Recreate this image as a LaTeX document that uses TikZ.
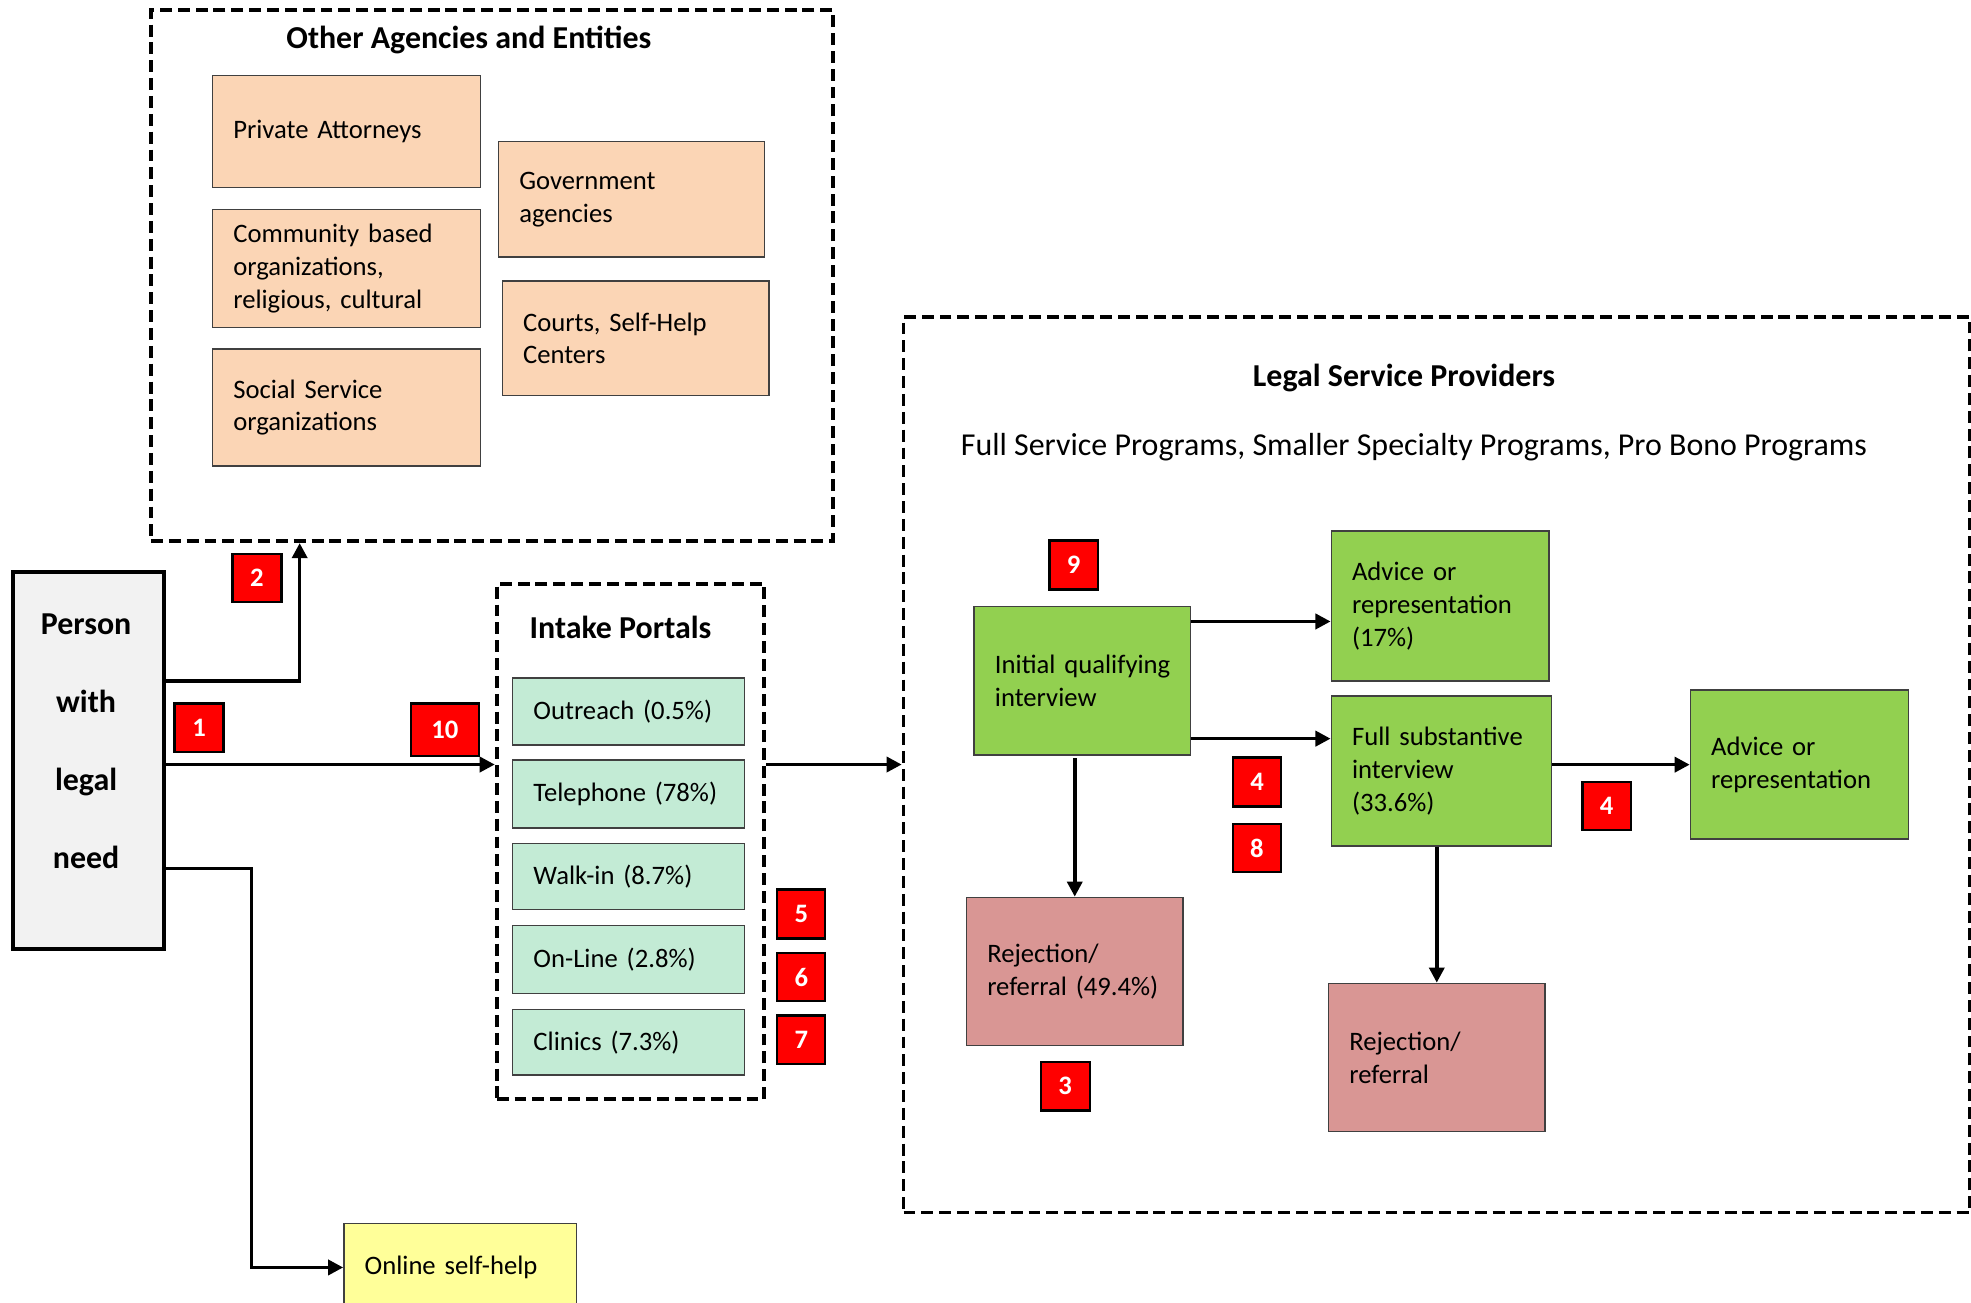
\documentclass[tikz,border=0pt]{standalone}
\usepackage{fontspec}
\setmainfont{Carlito}
\usetikzlibrary{arrows.meta,calc}
\definecolor{peach}{HTML}{FBD5B5}
\definecolor{mint}{HTML}{C3EBD5}
\definecolor{lgreen}{HTML}{92D050}
\definecolor{rose}{HTML}{D99694}
\definecolor{pale}{HTML}{FFFF99}
\definecolor{greybox}{HTML}{F2F2F2}
\definecolor{edge}{HTML}{404040}
\begin{document}
\begin{tikzpicture}[x=1pt,y=-1pt,
  body/.style={font=\fontsize{21.2}{26}\selectfont},
  headfont/.style={font=\bfseries\fontsize{25.4}{30}\selectfont},
  box/.style={draw=edge, line width=1.2pt, rectangle, inner xsep=16.5pt, inner ysep=0pt, align=left, body, anchor=north west},
  group/.style={draw=black, line width=3pt, dash pattern=on 9.5pt off 4.7pt, rectangle, inner sep=0pt, anchor=north west},
  badge/.style={draw=black, line width=1.8pt, fill=red, text=white, font=\bfseries\fontsize{21.2}{26}\selectfont, inner sep=0pt, anchor=north west},
  conn/.style={line width=2.8pt, -{Triangle[length=12pt,width=12pt]}},
]
\path[use as bounding box, fill=white] (0,0) rectangle (1568,1036);

% groups
\node[group, minimum width=542.4pt, minimum height=422.8pt] (other) at (118.6,6.25) {};
\node[group, minimum width=212.8pt, minimum height=410pt] (intake) at (393.6,463) {};
\node[group, minimum width=848.5pt, minimum height=712.5pt] (lsp) at (717.3,250.6) {};

% titles
\node[headfont] (othertitle) at (373,31.5) {Other Agencies and Entities};
\node[headfont] (intaketitle) at (493.6,499) {Intake Portals};
\node[headfont] (lsptitle) at (1117,300.5) {Legal Service Providers};
\node[font=\fontsize{25.4}{30}\selectfont] (lspsub) at (1124.8,356) {Full Service Programs, Smaller Specialty Programs, Pro Bono Programs};

% other agencies
\node[box, fill=peach, minimum width=213pt, minimum height=89pt, text width=180pt] (pa) at (168.5,59.5) {Private Attorneys};
\node[box, fill=peach, minimum width=213pt, minimum height=94pt, text width=180pt] (cb) at (168.5,166) {Community based\\organizations,\\religious, cultural};
\node[box, fill=peach, minimum width=213pt, minimum height=93pt, text width=180pt] (ss) at (168.5,277) {Social Service\\organizations};
\node[box, fill=peach, minimum width=211.5pt, minimum height=92pt, text width=178.5pt] (ga) at (396,112) {Government\\agencies};
\node[box, fill=peach, minimum width=212pt, minimum height=91pt, text width=179pt] (cs) at (399,223) {Courts, Self-Help\\Centers};

% person
\node[draw=black, line width=3pt, fill=greybox, rectangle, inner sep=0pt, anchor=north west, minimum width=119.7pt, minimum height=300pt] (person) at (9.1,453.6) {};
\node[align=center, font=\bfseries\fontsize{25.4}{62}\selectfont] (personlabel) at (68.5,590) {Person\\with\\legal\\need};

% intake portals
\node[box, fill=mint, minimum width=184.5pt, minimum height=53.4pt, text width=151.5pt] (outreach) at (407.3,538.6) {Outreach (0.5\%)};
\node[box, fill=mint, minimum width=184.5pt, minimum height=54pt, text width=151.5pt] (tel) at (407.3,604) {Telephone (78\%)};
\node[box, fill=mint, minimum width=184.5pt, minimum height=52.6pt, text width=151.5pt] (walk) at (407.3,670.4) {Walk-in (8.7\%)};
\node[box, fill=mint, minimum width=184.5pt, minimum height=54pt, text width=151.5pt] (online) at (407.3,735.8) {On-Line (2.8\%)};
\node[box, fill=mint, minimum width=184.5pt, minimum height=51.8pt, text width=151.5pt] (clinics) at (407.3,802.6) {Clinics (7.3\%)};

% online self-help
\node[box, fill=pale, minimum width=185pt, minimum height=70pt, text width=152pt] (osh) at (273,972.7) {Online self-help};

% legal service providers
\node[box, fill=lgreen, minimum width=172.2pt, minimum height=118pt, text width=139.2pt] (init) at (774.4,482) {\mbox{Initial qualifying}\\interview};
\node[box, fill=lgreen, minimum width=173.3pt, minimum height=119.3pt, text width=140.3pt] (adv1) at (1058.5,422) {Advice or\\representation\\(17\%)};
\node[box, fill=lgreen, minimum width=175pt, minimum height=119.3pt, text width=142pt] (full) at (1058.5,553.2) {\mbox{Full substantive}\\interview\\(33.6\%)};
\node[box, fill=lgreen, minimum width=173.3pt, minimum height=118.6pt, text width=140.3pt] (advr) at (1344.2,548.4) {Advice or\\representation};
\node[box, fill=rose, minimum width=172.2pt, minimum height=118pt, text width=139.2pt] (rej1) at (768.3,713.3) {Rejection/\\\mbox{referral (49.4\%)}};
\node[box, fill=rose, minimum width=172.2pt, minimum height=118pt, text width=139.2pt] (rej2) at (1056.3,781.7) {Rejection/\\referral};

% badges
\node[badge, minimum width=39pt, minimum height=38pt] (b2) at (184,440) {2};
\node[badge, minimum width=39pt, minimum height=38.7pt] (b1) at (138,558.7) {1};
\node[badge, minimum width=54pt, minimum height=41.8pt] (b10) at (326,558.7) {10};
\node[badge, minimum width=38.5pt, minimum height=39pt] (b9) at (834,429) {9};
\node[badge, minimum width=38.4pt, minimum height=38.9pt] (b4a) at (980,601.8) {4};
\node[badge, minimum width=38pt, minimum height=38.5pt] (b8) at (980,654.4) {8};
\node[badge, minimum width=38.5pt, minimum height=38.5pt] (b4b) at (1258,621) {4};
\node[badge, minimum width=38.3pt, minimum height=39pt] (b5) at (617.4,706.8) {5};
\node[badge, minimum width=38.3pt, minimum height=38.7pt] (b6) at (617.4,757) {6};
\node[badge, minimum width=38.3pt, minimum height=38.6pt] (b7) at (617.4,806.9) {7};
\node[badge, minimum width=39pt, minimum height=38.7pt] (b3) at (827,843.8) {3};

% connectors
\draw[conn] (person.east |- 0,541.7) -| (other.south -| 238.4,0);
\draw[conn] (person.east |- 0,608.2) -- (intake.west |- 0,608.2);
\draw[conn] (intake.east |- 0,608.2) -- (lsp.west |- 0,608.2);
\draw[conn] (person.east |- 0,690.9) -| ($(osh.west)+(-73,0)$) -- (osh.west);
\draw[conn] (init.east |- 0,494.4) -- (adv1.west |- 0,494.4);
\draw[conn] (init.east |- 0,587.6) -- (full.west |- 0,587.6);
\draw[conn] (full.east |- advr.west) -- (advr.west);
\draw[conn] ($(rej1.north |- init.south)+(0,2)$) -- (rej1.north);
\draw[conn] (rej2.north |- full.south) -- (rej2.north);
\end{tikzpicture}
\end{document}
